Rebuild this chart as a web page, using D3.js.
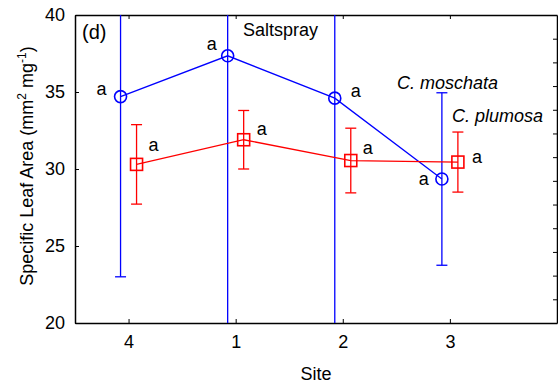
<!DOCTYPE html>
<html>
<head>
<meta charset="utf-8">
<script src="https://cdn.jsdelivr.net/npm/d3@7"></script>
<style>
  body { margin: 0; background: #fff; }
  svg { font-family: "Liberation Sans", Arial, sans-serif; }
  .axis path, .axis line { stroke: #000; }
  .axis text { font-size: 18px; fill: #000; }
</style>
</head>
<body>
<svg width="558" height="387"></svg>
<script>
// sites in plotted order
const sites = ["4", "1", "2", "3"];
const yTicks = [20, 25, 30, 35, 40];

// C. moschata (blue circles)
const moschataMean = [34.7, 37.35, 34.6, 29.35];
const moschataSE = [11.7, 18.5, 16.0, 5.6];
const moschataLetters = ["a", "a", "a", "a"];

// C. plumosa (red squares)
const plumosaMean = [30.3, 31.9, 30.55, 30.45];
const plumosaSE = [2.58, 1.9, 2.1, 1.95];
const plumosaLetters = ["a", "a", "a", "a"];

const plotLeft = 75, plotRight = 557, plotTop = 15, plotBottom = 323;

const svg = d3.select("svg");

const x = d3.scaleLinear().domain([0.5, 5]).range([plotLeft, plotRight]);
const y = d3.scaleLinear().domain([20, 40]).range([plotBottom, plotTop]);
const yRight = d3.scaleLinear().domain([0, 13]).range([plotBottom, plotTop]);

svg.append("clipPath").attr("id", "plot")
  .append("rect")
  .attr("x", plotLeft).attr("y", plotTop)
  .attr("width", plotRight - plotLeft).attr("height", plotBottom - plotTop);

// axes
svg.append("g")
    .attr("class", "axis")
    .attr("transform", `translate(0,${plotBottom})`)
    .call(d3.axisBottom(x).tickValues([1, 2, 3, 4]).tickFormat((d, i) => sites[i])
      .tickSizeInner(-4).tickSizeOuter(0).tickPadding(12));

svg.append("g")
    .attr("class", "axis")
    .attr("transform", `translate(0,${plotTop})`)
    .call(d3.axisTop(x).tickValues([1, 2, 3, 4]).tickFormat("")
      .tickSizeInner(-4).tickSizeOuter(0));

svg.append("g")
    .attr("class", "axis")
    .attr("transform", `translate(${plotLeft},0)`)
    .call(d3.axisLeft(y).tickValues(yTicks)
      .tickSizeInner(-4).tickSizeOuter(0).tickPadding(10));

svg.append("g")
    .attr("class", "axis")
    .attr("transform", `translate(${plotRight},0)`)
    .call(d3.axisRight(yRight).ticks(13).tickFormat("")
      .tickSizeInner(-4).tickSizeOuter(0));

svg.selectAll(".axis path").attr("stroke-width", 1.5);

// series
const dodge = 8;
const series = [
  {mean: moschataMean, se: moschataSE, letters: moschataLetters, color: "#0000ff", shape: "circle", dx: -dodge,
   labels: [[-14, -2, "end"], [-11, -6, "end"], [16, -1, "start"], [-13, 6, "end"]]},
  {mean: plumosaMean, se: plumosaSE, letters: plumosaLetters, color: "#ff0000", shape: "square", dx: dodge,
   labels: [[12, -13, "start"], [13, -5, "start"], [12, -7, "start"], [14, 1, "start"]]}
];

const line = d3.line()
    .x(d => x(d.i + 1) + d.dx)
    .y(d => y(d.m));

series.forEach(s => {
  const pts = s.mean.map((m, i) => ({i: i, m: m, se: s.se[i], dx: s.dx}));
  const g = svg.append("g").attr("clip-path", "url(#plot)");

  g.append("path")
      .datum(pts)
      .attr("fill", "none")
      .attr("stroke", s.color)
      .attr("stroke-width", 1.3)
      .attr("d", line);

  // error bars
  const eb = g.selectAll(null).data(pts).enter().append("g")
      .attr("stroke", s.color).attr("stroke-width", 1.3);
  eb.append("line")
      .attr("x1", d => x(d.i + 1) + d.dx).attr("x2", d => x(d.i + 1) + d.dx)
      .attr("y1", d => y(d.m - d.se)).attr("y2", d => y(d.m + d.se));
  [-1, 1].forEach(sign => {
    eb.append("line")
        .attr("x1", d => x(d.i + 1) + d.dx - 5.5).attr("x2", d => x(d.i + 1) + d.dx + 5.5)
        .attr("y1", d => y(d.m + sign * d.se)).attr("y2", d => y(d.m + sign * d.se));
  });

  // markers
  if (s.shape === "circle") {
    g.selectAll(null).data(pts).enter().append("circle")
        .attr("cx", d => x(d.i + 1) + d.dx).attr("cy", d => y(d.m)).attr("r", 6)
        .attr("fill", "none").attr("stroke", s.color).attr("stroke-width", 1.6);
  } else {
    g.selectAll(null).data(pts).enter().append("rect")
        .attr("x", d => x(d.i + 1) + d.dx - 6).attr("y", d => y(d.m) - 6)
        .attr("width", 12).attr("height", 12)
        .attr("fill", "none").attr("stroke", s.color).attr("stroke-width", 1.6);
  }

  // significance letters
  svg.selectAll(null).data(pts).enter().append("text")
      .attr("x", d => x(d.i + 1) + d.dx + s.labels[d.i][0])
      .attr("y", d => y(d.m) + s.labels[d.i][1])
      .attr("text-anchor", d => s.labels[d.i][2])
      .attr("font-size", 18)
      .text((d, i) => s.letters[i]);
});

// annotations
svg.append("text").attr("x", 82).attr("y", 39).attr("font-size", 20).text("(d)");
svg.append("text").attr("x", 243).attr("y", 35.5).attr("font-size", 18).text("Saltspray");
svg.append("text").attr("x", 397).attr("y", 89).attr("font-size", 18)
    .attr("font-style", "italic").text("C. moschata");
svg.append("text").attr("x", 452).attr("y", 121.5).attr("font-size", 18)
    .attr("font-style", "italic").text("C. plumosa");

// axis titles
svg.append("text")
    .attr("x", (plotLeft + plotRight) / 2).attr("y", 380)
    .attr("text-anchor", "middle").attr("font-size", 18)
    .text("Site");

const yt = svg.append("text")
    .attr("transform", "translate(33,166) rotate(-90)")
    .attr("text-anchor", "middle").attr("font-size", 18);
yt.append("tspan").text("Specific Leaf Area (mm");
yt.append("tspan").attr("font-size", 12).attr("dy", -7).text("2");
yt.append("tspan").attr("dy", 7).text(" mg");
yt.append("tspan").attr("font-size", 12).attr("dy", -7).text("-1");
yt.append("tspan").attr("dy", 7).text(")");
</script>
</body>
</html>
